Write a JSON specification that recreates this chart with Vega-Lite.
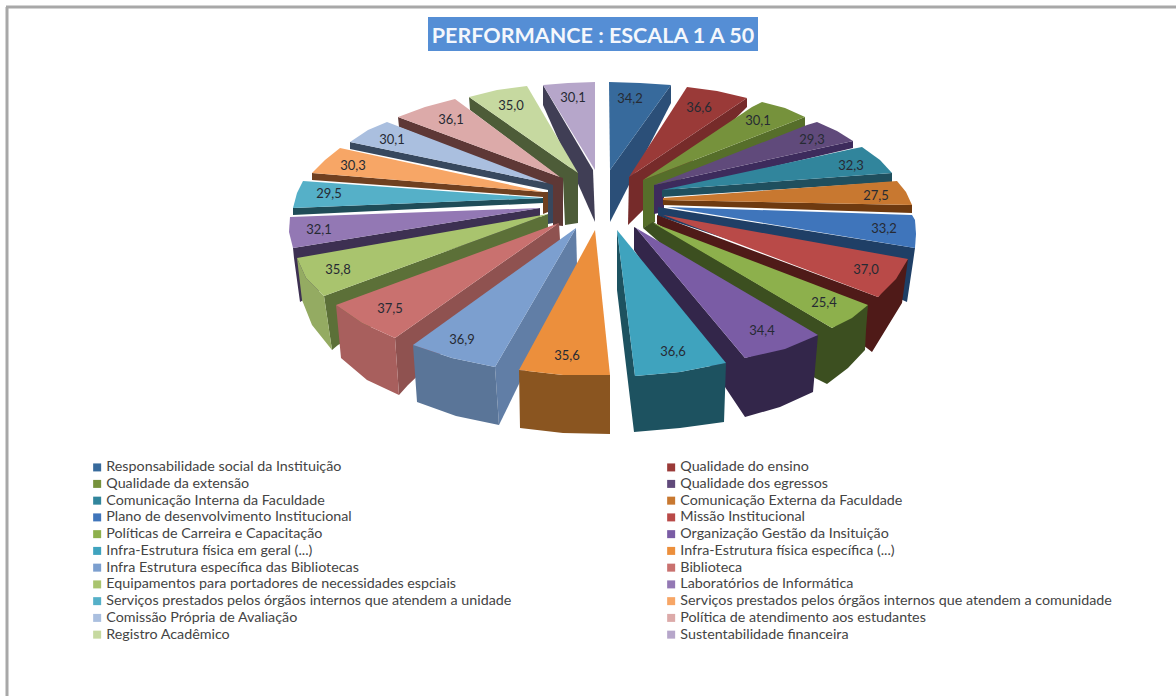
{"$schema":"https://vega.github.io/schema/vega-lite/v6.json","width":1176,"height":696,"padding":0,"autosize":{"type":"none"},"background":"white",
"title":{"text":"PERFORMANCE : ESCALA 1 A 50","anchor":"middle","dx":5,"offset":-47,"font":"Lato","fontSize":21.5,"fontWeight":"bold","color":"#f4f7fc"},
"config":{"view":{"stroke":null}},
"datasets":{
"moldura":[{"x":6,"y":7,"x2":1176,"y2":7},{"x":7,"y":7,"x2":7,"y2":696}],
"faixa":[{"x":428,"x2":758,"y":17,"y2":51}],
"lados":[
{"lado":"Sustentabilidade","i":1,"x":593,"y":170},{"lado":"Sustentabilidade","i":2,"x":543,"y":85},{"lado":"Sustentabilidade","i":3,"x":543,"y":105},{"lado":"Sustentabilidade","i":4,"x":595,"y":222},
{"lado":"Resp","i":1,"x":610,"y":170},{"lado":"Resp","i":2,"x":671,"y":85},{"lado":"Resp","i":3,"x":671,"y":103},{"lado":"Resp","i":4,"x":610,"y":222},
{"lado":"Registro","i":1,"x":578,"y":173},{"lado":"Registro","i":2,"x":469,"y":97},{"lado":"Registro","i":3,"x":470,"y":110},{"lado":"Registro","i":4,"x":563,"y":180},{"lado":"Registro","i":5,"x":565,"y":225},{"lado":"Registro","i":6,"x":578,"y":223},
{"lado":"Ensino","i":1,"x":629,"y":177},{"lado":"Ensino","i":2,"x":747,"y":98},{"lado":"Ensino","i":3,"x":747,"y":107},{"lado":"Ensino","i":4,"x":628,"y":225},
{"lado":"Politica","i":1,"x":560,"y":177},{"lado":"Politica","i":2,"x":398,"y":117},{"lado":"Politica","i":3,"x":399,"y":127},{"lado":"Politica","i":4,"x":553,"y":188},{"lado":"Politica","i":5,"x":553,"y":225},{"lado":"Politica","i":6,"x":563,"y":226},{"lado":"Politica","i":7,"x":563,"y":178},
{"lado":"Extensao","i":1,"x":643,"y":180},{"lado":"Extensao","i":2,"x":805,"y":117},{"lado":"Extensao","i":3,"x":805,"y":128},{"lado":"Extensao","i":4,"x":655,"y":190},{"lado":"Extensao","i":5,"x":655,"y":222},{"lado":"Extensao","i":6,"x":643,"y":228},
{"lado":"Comissao","i":1,"x":547,"y":183},{"lado":"Comissao","i":2,"x":350,"y":142},{"lado":"Comissao","i":3,"x":350,"y":149},{"lado":"Comissao","i":4,"x":548,"y":190},{"lado":"Comissao","i":5,"x":548,"y":224},{"lado":"Comissao","i":6,"x":553,"y":223},{"lado":"Comissao","i":7,"x":553,"y":185},
{"lado":"Egressos","i":1,"x":654,"y":185},{"lado":"Egressos","i":2,"x":853,"y":141},{"lado":"Egressos","i":3,"x":853,"y":148},{"lado":"Egressos","i":4,"x":664,"y":192},{"lado":"Egressos","i":5,"x":664,"y":212},{"lado":"Egressos","i":6,"x":654,"y":214},
{"lado":"Comunidade","i":1,"x":543,"y":192},{"lado":"Comunidade","i":2,"x":312,"y":173},{"lado":"Comunidade","i":3,"x":312,"y":180},{"lado":"Comunidade","i":4,"x":543,"y":197},{"lado":"Comunidade","i":5,"x":543,"y":214},{"lado":"Comunidade","i":6,"x":548,"y":212},{"lado":"Comunidade","i":7,"x":548,"y":192},
{"lado":"Interna","i":1,"x":662,"y":190},{"lado":"Interna","i":2,"x":892,"y":173},{"lado":"Interna","i":3,"x":892,"y":182},{"lado":"Interna","i":4,"x":662,"y":197},
{"lado":"Unidade","i":1,"x":543,"y":198},{"lado":"Unidade","i":2,"x":293,"y":208},{"lado":"Unidade","i":3,"x":293,"y":215},{"lado":"Unidade","i":4,"x":543,"y":203},
{"lado":"Externa","i":1,"x":663,"y":200},{"lado":"Externa","i":2,"x":912,"y":205},{"lado":"Externa","i":3,"x":912,"y":213},{"lado":"Externa","i":4,"x":663,"y":205},
{"lado":"Laboratorios","i":1,"x":540,"y":208},{"lado":"Laboratorios","i":2,"x":293,"y":248},{"lado":"Laboratorios","i":3,"x":294,"y":258},{"lado":"Laboratorios","i":4,"x":300,"y":302},{"lado":"Laboratorios","i":5,"x":320,"y":290},{"lado":"Laboratorios","i":6,"x":540,"y":222},
{"lado":"Plano","i":1,"x":658,"y":207},{"lado":"Plano","i":2,"x":915,"y":248},{"lado":"Plano","i":3,"x":913,"y":262},{"lado":"Plano","i":4,"x":907,"y":302},{"lado":"Plano","i":5,"x":880,"y":290},{"lado":"Plano","i":6,"x":658,"y":216},
{"lado":"Missao","i":1,"x":657,"y":215},{"lado":"Missao","i":2,"x":878,"y":297},{"lado":"Missao","i":3,"x":908,"y":259},{"lado":"Missao","i":4,"x":902,"y":303},{"lado":"Missao","i":5,"x":872,"y":352},{"lado":"Missao","i":6,"x":850,"y":335},{"lado":"Missao","i":7,"x":657,"y":224},
{"lado":"Equipamentos interno","i":1,"x":324,"y":296},{"lado":"Equipamentos interno","i":2,"x":548,"y":214},{"lado":"Equipamentos interno","i":3,"x":548,"y":228},{"lado":"Equipamentos interno","i":4,"x":338,"y":345},{"lado":"Equipamentos interno","i":5,"x":332,"y":350},
{"lado":"Equipamentos externo","i":1,"x":297,"y":258},{"lado":"Equipamentos externo","i":2,"x":306,"y":278},{"lado":"Equipamentos externo","i":3,"x":324,"y":296},{"lado":"Equipamentos externo","i":4,"x":332,"y":350},{"lado":"Equipamentos externo","i":5,"x":312,"y":325},{"lado":"Equipamentos externo","i":6,"x":302,"y":300},
{"lado":"Politicas","i":1,"x":653,"y":222},{"lado":"Politicas","i":2,"x":832,"y":328},{"lado":"Politicas","i":3,"x":868,"y":305},{"lado":"Politicas","i":4,"x":866,"y":330},{"lado":"Politicas","i":5,"x":865,"y":350},{"lado":"Politicas","i":6,"x":848,"y":368},{"lado":"Politicas","i":7,"x":827,"y":384},{"lado":"Politicas","i":8,"x":815,"y":378},{"lado":"Politicas","i":9,"x":643,"y":228},
{"lado":"Biblioteca interno","i":1,"x":395,"y":338},{"lado":"Biblioteca interno","i":2,"x":559,"y":223},{"lado":"Biblioteca interno","i":3,"x":560,"y":240},{"lado":"Biblioteca interno","i":4,"x":408,"y":385},{"lado":"Biblioteca interno","i":5,"x":399,"y":395},
{"lado":"Biblioteca externo","i":1,"x":336,"y":305},{"lado":"Biblioteca externo","i":2,"x":362,"y":323},{"lado":"Biblioteca externo","i":3,"x":395,"y":338},{"lado":"Biblioteca externo","i":4,"x":399,"y":395},{"lado":"Biblioteca externo","i":5,"x":367,"y":380},{"lado":"Biblioteca externo","i":6,"x":341,"y":358},
{"lado":"Organizacao","i":1,"x":636,"y":228},{"lado":"Organizacao","i":2,"x":745,"y":358},{"lado":"Organizacao","i":3,"x":818,"y":335},{"lado":"Organizacao","i":4,"x":813,"y":392},{"lado":"Organizacao","i":5,"x":780,"y":407},{"lado":"Organizacao","i":6,"x":745,"y":417},{"lado":"Organizacao","i":7,"x":727,"y":390},{"lado":"Organizacao","i":8,"x":634,"y":250},{"lado":"Organizacao","i":9,"x":634,"y":227},
{"lado":"Bibliotecas interno","i":1,"x":495,"y":367},{"lado":"Bibliotecas interno","i":2,"x":576,"y":228},{"lado":"Bibliotecas interno","i":3,"x":577,"y":265},{"lado":"Bibliotecas interno","i":4,"x":499,"y":425},
{"lado":"Bibliotecas externo","i":1,"x":413,"y":345},{"lado":"Bibliotecas externo","i":2,"x":452,"y":358},{"lado":"Bibliotecas externo","i":3,"x":495,"y":367},{"lado":"Bibliotecas externo","i":4,"x":499,"y":425},{"lado":"Bibliotecas externo","i":5,"x":456,"y":416},{"lado":"Bibliotecas externo","i":6,"x":417,"y":402},
{"lado":"Geral","i":1,"x":617,"y":230},{"lado":"Geral","i":2,"x":635,"y":376},{"lado":"Geral","i":3,"x":680,"y":372},{"lado":"Geral","i":4,"x":726,"y":363},{"lado":"Geral","i":5,"x":724,"y":422},{"lado":"Geral","i":6,"x":680,"y":428},{"lado":"Geral","i":7,"x":634,"y":432},{"lado":"Geral","i":8,"x":617,"y":290},
{"lado":"Especifica","i":1,"x":519,"y":370},{"lado":"Especifica","i":2,"x":563,"y":375},{"lado":"Especifica","i":3,"x":610,"y":375},{"lado":"Especifica","i":4,"x":610,"y":434},{"lado":"Especifica","i":5,"x":563,"y":433},{"lado":"Especifica","i":6,"x":520,"y":428}
],
"topos":[
{"nome":"Responsabilidade social da Instituição","i":1,"x":609,"y":82},{"nome":"Responsabilidade social da Instituição","i":2,"x":640,"y":83},{"nome":"Responsabilidade social da Instituição","i":3,"x":671,"y":85},{"nome":"Responsabilidade social da Instituição","i":4,"x":610,"y":170},
{"nome":"Qualidade do ensino","i":1,"x":687,"y":87},{"nome":"Qualidade do ensino","i":2,"x":717,"y":91},{"nome":"Qualidade do ensino","i":3,"x":747,"y":98},{"nome":"Qualidade do ensino","i":4,"x":629,"y":177},
{"nome":"Qualidade da extensão","i":1,"x":752,"y":107},{"nome":"Qualidade da extensão","i":2,"x":762,"y":102},{"nome":"Qualidade da extensão","i":3,"x":785,"y":108},{"nome":"Qualidade da extensão","i":4,"x":805,"y":117},{"nome":"Qualidade da extensão","i":5,"x":643,"y":180},
{"nome":"Qualidade dos egressos","i":1,"x":807,"y":125},{"nome":"Qualidade dos egressos","i":2,"x":817,"y":122},{"nome":"Qualidade dos egressos","i":3,"x":837,"y":131},{"nome":"Qualidade dos egressos","i":4,"x":853,"y":141},{"nome":"Qualidade dos egressos","i":5,"x":654,"y":185},
{"nome":"Comunicação Interna da Faculdade","i":1,"x":852,"y":149},{"nome":"Comunicação Interna da Faculdade","i":2,"x":862,"y":147},{"nome":"Comunicação Interna da Faculdade","i":3,"x":880,"y":160},{"nome":"Comunicação Interna da Faculdade","i":4,"x":892,"y":173},{"nome":"Comunicação Interna da Faculdade","i":5,"x":662,"y":190},
{"nome":"Comunicação Externa da Faculdade","i":1,"x":897,"y":181},{"nome":"Comunicação Externa da Faculdade","i":2,"x":906,"y":192},{"nome":"Comunicação Externa da Faculdade","i":3,"x":912,"y":205},{"nome":"Comunicação Externa da Faculdade","i":4,"x":663,"y":200},{"nome":"Comunicação Externa da Faculdade","i":5,"x":663,"y":198},
{"nome":"Plano de desenvolvimento Institucional","i":1,"x":667,"y":207},{"nome":"Plano de desenvolvimento Institucional","i":2,"x":912,"y":215},{"nome":"Plano de desenvolvimento Institucional","i":3,"x":915,"y":220},{"nome":"Plano de desenvolvimento Institucional","i":4,"x":916,"y":234},{"nome":"Plano de desenvolvimento Institucional","i":5,"x":915,"y":248},
{"nome":"Missão Institucional","i":1,"x":663,"y":215},{"nome":"Missão Institucional","i":2,"x":908,"y":259},{"nome":"Missão Institucional","i":3,"x":896,"y":279},{"nome":"Missão Institucional","i":4,"x":878,"y":297},
{"nome":"Políticas de Carreira e Capacitação","i":1,"x":653,"y":223},{"nome":"Políticas de Carreira e Capacitação","i":2,"x":868,"y":305},{"nome":"Políticas de Carreira e Capacitação","i":3,"x":852,"y":318},{"nome":"Políticas de Carreira e Capacitação","i":4,"x":832,"y":328},
{"nome":"Organização Gestão da Insituição","i":1,"x":636,"y":228},{"nome":"Organização Gestão da Insituição","i":2,"x":818,"y":335},{"nome":"Organização Gestão da Insituição","i":3,"x":785,"y":349},{"nome":"Organização Gestão da Insituição","i":4,"x":745,"y":358},
{"nome":"Infra-Estrutura física em geral (...)","i":1,"x":617,"y":230},{"nome":"Infra-Estrutura física em geral (...)","i":2,"x":726,"y":363},{"nome":"Infra-Estrutura física em geral (...)","i":3,"x":680,"y":372},{"nome":"Infra-Estrutura física em geral (...)","i":4,"x":635,"y":376},
{"nome":"Infra-Estrutura física específica (...)","i":1,"x":595,"y":230},{"nome":"Infra-Estrutura física específica (...)","i":2,"x":610,"y":375},{"nome":"Infra-Estrutura física específica (...)","i":3,"x":563,"y":375},{"nome":"Infra-Estrutura física específica (...)","i":4,"x":519,"y":370},
{"nome":"Infra Estrutura específica das Bibliotecas","i":1,"x":576,"y":228},{"nome":"Infra Estrutura específica das Bibliotecas","i":2,"x":495,"y":367},{"nome":"Infra Estrutura específica das Bibliotecas","i":3,"x":452,"y":358},{"nome":"Infra Estrutura específica das Bibliotecas","i":4,"x":413,"y":345},
{"nome":"Biblioteca","i":1,"x":559,"y":223},{"nome":"Biblioteca","i":2,"x":395,"y":338},{"nome":"Biblioteca","i":3,"x":362,"y":323},{"nome":"Biblioteca","i":4,"x":336,"y":305},
{"nome":"Equipamentos para portadores de necessidades espciais","i":1,"x":548,"y":214},{"nome":"Equipamentos para portadores de necessidades espciais","i":2,"x":324,"y":296},{"nome":"Equipamentos para portadores de necessidades espciais","i":3,"x":306,"y":278},{"nome":"Equipamentos para portadores de necessidades espciais","i":4,"x":297,"y":258},
{"nome":"Laboratórios de Informática","i":1,"x":540,"y":208},{"nome":"Laboratórios de Informática","i":2,"x":293,"y":248},{"nome":"Laboratórios de Informática","i":3,"x":289,"y":232},{"nome":"Laboratórios de Informática","i":4,"x":290,"y":217},
{"nome":"Serviços prestados pelos órgãos internos que atendem a unidade","i":1,"x":543,"y":198},{"nome":"Serviços prestados pelos órgãos internos que atendem a unidade","i":2,"x":303,"y":181},{"nome":"Serviços prestados pelos órgãos internos que atendem a unidade","i":3,"x":297,"y":193},{"nome":"Serviços prestados pelos órgãos internos que atendem a unidade","i":4,"x":293,"y":208},
{"nome":"Serviços prestados pelos órgãos internos que atendem a comunidade","i":1,"x":543,"y":192},{"nome":"Serviços prestados pelos órgãos internos que atendem a comunidade","i":2,"x":340,"y":148},{"nome":"Serviços prestados pelos órgãos internos que atendem a comunidade","i":3,"x":325,"y":160},{"nome":"Serviços prestados pelos órgãos internos que atendem a comunidade","i":4,"x":312,"y":173},
{"nome":"Comissão Própria de Avaliação","i":1,"x":547,"y":183},{"nome":"Comissão Própria de Avaliação","i":2,"x":387,"y":122},{"nome":"Comissão Própria de Avaliação","i":3,"x":368,"y":130},{"nome":"Comissão Própria de Avaliação","i":4,"x":350,"y":142},
{"nome":"Política de atendimento aos estudantes","i":1,"x":560,"y":177},{"nome":"Política de atendimento aos estudantes","i":2,"x":455,"y":99},{"nome":"Política de atendimento aos estudantes","i":3,"x":425,"y":107},{"nome":"Política de atendimento aos estudantes","i":4,"x":398,"y":117},
{"nome":"Registro Acadêmico","i":1,"x":578,"y":173},{"nome":"Registro Acadêmico","i":2,"x":527,"y":86},{"nome":"Registro Acadêmico","i":3,"x":497,"y":90},{"nome":"Registro Acadêmico","i":4,"x":469,"y":97},
{"nome":"Sustentabilidade financeira","i":1,"x":595,"y":170},{"nome":"Sustentabilidade financeira","i":2,"x":595,"y":82},{"nome":"Sustentabilidade financeira","i":3,"x":568,"y":83},{"nome":"Sustentabilidade financeira","i":4,"x":543,"y":85}
],
"rotulos":[
{"valor":"34,2","x":630,"y":99},{"valor":"36,6","x":699,"y":108},{"valor":"30,1","x":758,"y":121},{"valor":"29,3","x":812,"y":140},{"valor":"32,3","x":851,"y":166},{"valor":"27,5","x":876,"y":196},{"valor":"33,2","x":884,"y":229},{"valor":"37,0","x":866,"y":270},{"valor":"25,4","x":824,"y":303},{"valor":"34,4","x":762,"y":331},{"valor":"36,6","x":673,"y":352},{"valor":"35,6","x":567,"y":356},{"valor":"36,9","x":462,"y":340},{"valor":"37,5","x":390,"y":309},{"valor":"35,8","x":338,"y":270},{"valor":"32,1","x":319,"y":230},{"valor":"29,5","x":329,"y":194},{"valor":"30,3","x":353,"y":166},{"valor":"30,1","x":392,"y":140},{"valor":"36,1","x":451,"y":120},{"valor":"35,0","x":511,"y":106},{"valor":"30,1","x":573,"y":98}
]},
"resolve":{"scale":{"fill":"independent"},"legend":{"fill":"independent"}},
"layer":[
{"data":{"name":"moldura"},"mark":{"type":"rule","color":"#a8a8a8","strokeWidth":3},"encoding":{"x":{"field":"x","type":"quantitative","scale":{"domain":[0,1176],"nice":false,"zero":false},"axis":null},"y":{"field":"y","type":"quantitative","scale":{"domain":[696,0],"nice":false,"zero":false},"axis":null},"x2":{"field":"x2"},"y2":{"field":"y2"}}},
{"data":{"name":"faixa"},"mark":{"type":"rect","color":"#558ed5"},"encoding":{"x":{"field":"x","type":"quantitative","scale":{"domain":[0,1176],"nice":false,"zero":false},"axis":null},"y":{"field":"y","type":"quantitative","scale":{"domain":[696,0],"nice":false,"zero":false},"axis":null},"x2":{"field":"x2"},"y2":{"field":"y2"}}},
{"data":{"name":"lados"},"mark":{"type":"line","strokeWidth":0,"interpolate":"linear-closed"},"encoding":{"x":{"field":"x","type":"quantitative","scale":{"domain":[0,1176],"nice":false,"zero":false},"axis":null},"y":{"field":"y","type":"quantitative","scale":{"domain":[696,0],"nice":false,"zero":false},"axis":null},"order":{"field":"i"},"fill":{"field":"lado","type":"nominal","legend":null,"scale":{"domain":["Resp","Ensino","Extensao","Egressos","Interna","Externa","Plano","Missao","Politicas","Organizacao","Geral","Especifica","Bibliotecas externo","Bibliotecas interno","Biblioteca externo","Biblioteca interno","Equipamentos externo","Equipamentos interno","Laboratorios","Unidade","Comunidade","Comissao","Politica","Registro","Sustentabilidade"],"range":["#2b4f78","#762b2a","#566e2a","#3d2b5c","#1f4f5e","#6e3a10","#1f3f66","#4f1a18","#3c4f20","#33264a","#1d5260","#8a5520","#5a7598","#617ea6","#a85f5d","#8f5250","#94ab62","#5c7038","#3d3052","#1f4c58","#704020","#37485e","#5e3836","#4d5c38","#403e55"]}}}},
{"data":{"name":"topos"},"mark":{"type":"line","strokeWidth":0,"interpolate":"linear-closed"},"encoding":{"x":{"field":"x","type":"quantitative","scale":{"domain":[0,1176],"nice":false,"zero":false},"axis":null},"y":{"field":"y","type":"quantitative","scale":{"domain":[696,0],"nice":false,"zero":false},"axis":null},"order":{"field":"i"},"fill":{"field":"nome","type":"nominal","scale":{"domain":["Responsabilidade social da Instituição","Qualidade do ensino","Qualidade da extensão","Qualidade dos egressos","Comunicação Interna da Faculdade","Comunicação Externa da Faculdade","Plano de desenvolvimento Institucional","Missão Institucional","Políticas de Carreira e Capacitação","Organização Gestão da Insituição","Infra-Estrutura física em geral (...)","Infra-Estrutura física específica (...)","Infra Estrutura específica das Bibliotecas","Biblioteca","Equipamentos para portadores de necessidades espciais","Laboratórios de Informática","Serviços prestados pelos órgãos internos que atendem a unidade","Serviços prestados pelos órgãos internos que atendem a comunidade","Comissão Própria de Avaliação","Política de atendimento aos estudantes","Registro Acadêmico","Sustentabilidade financeira"],"range":["#376a9c","#9a3a38","#76923c","#604a7b","#31859c","#c87830","#3f75bb","#b94a48","#8db04c","#7a5ca5","#3fa3be","#ec8f3c","#7c9fcf","#c9716f","#a9c46e","#9378b4","#55b0c8","#f7a666","#aabfdf","#dcaaa9","#c6d9a0","#b6a6ca"]},"legend":{"title":null,"orient":"none","legendX":90,"legendY":460,"columns":2,"direction":"horizontal","symbolType":"square","symbolSize":64,"symbolStrokeWidth":0,"labelFont":"Lato","labelFontSize":14.3,"labelColor":"#444444","labelOffset":2,"labelLimit":600,"rowPadding":1.75,"columnPadding":152}}}},
{"data":{"name":"rotulos"},"mark":{"type":"text","font":"Lato","fontSize":13,"color":"#262a33"},"encoding":{"x":{"field":"x","type":"quantitative","scale":{"domain":[0,1176],"nice":false,"zero":false},"axis":null},"y":{"field":"y","type":"quantitative","scale":{"domain":[696,0],"nice":false,"zero":false},"axis":null},"text":{"field":"valor","type":"nominal"}}}
]}
